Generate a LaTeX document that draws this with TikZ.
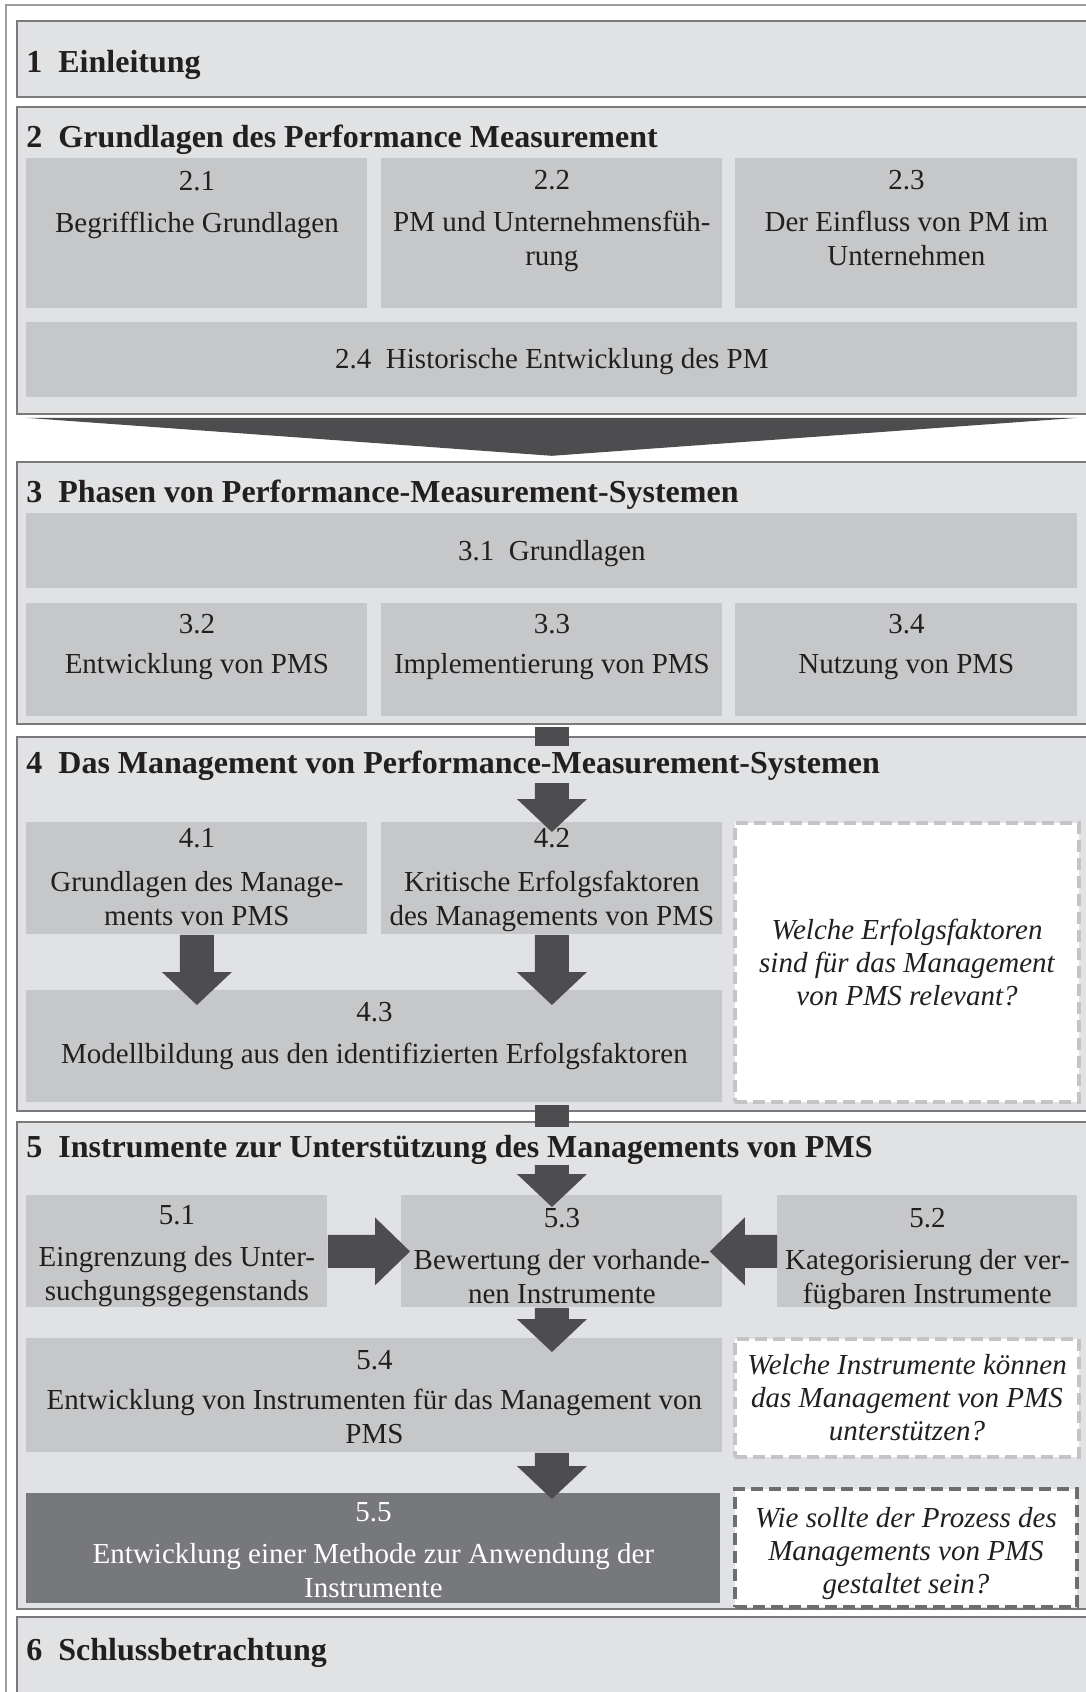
\documentclass[tikz,border=0pt]{standalone}
\usepackage{fontspec}
\setmainfont{Liberation Serif}
\usetikzlibrary{calc}

\definecolor{ink}{HTML}{231F20}
\definecolor{secfill}{HTML}{E1E2E3}
\definecolor{secline}{HTML}{7A7A7C}
\definecolor{boxfill}{HTML}{C6C7C9}
\definecolor{darkfill}{HTML}{77787B}
\definecolor{arrowgray}{HTML}{4D4D4F}
\definecolor{dashlight}{HTML}{C4C4C6}
\definecolor{dashdark}{HTML}{6D6E70}
\definecolor{framegray}{HTML}{9D9D9F}

% block arrows: start of stem, tip
\newcommand{\blockdown}[2]{%
  \fill[arrowfill] ($(#1)+(-17,0)$) -- ($(#1)+(17,0)$) -- ($(#2)+(17,-33)$)
    -- ($(#2)+(35,-33)$) -- (#2) -- ($(#2)+(-35,-33)$) -- ($(#2)+(-17,-33)$) -- cycle;}
\newcommand{\blockside}[3]{%
  \fill[arrowfill] ($(#1)+(0,-16.5)$) -- ($(#2)+({-35*(#3)},-16.5)$) -- ($(#2)+({-35*(#3)},-34)$)
    -- (#2) -- ($(#2)+({-35*(#3)},34)$) -- ($(#2)+({-35*(#3)},16.5)$) -- ($(#1)+(0,16.5)$) -- cycle;}

\begin{document}
\begin{tikzpicture}
            [x=0.5pt, y=-0.5pt,
            section/.style={draw=secline, fill=secfill, line width=0.8pt, anchor=north west, minimum width=542pt, inner sep=0pt},
            subbox/.style={fill=boxfill, anchor=north west, inner sep=0pt},
            darkbox/.style={fill=darkfill, anchor=north west, inner sep=0pt},
            question/.style={fill=white, draw=dashlight, line width=2pt, dash pattern=on 6pt off 3pt, anchor=north west, inner sep=0pt},
            qdark/.style={question, draw=dashdark},
            title/.style={anchor=base west, inner sep=0pt, text=ink, font=\fontsize{16}{19}\selectfont\bfseries},
            boxtext/.style={anchor=base, align=center, inner sep=0pt, text=ink, font=\fontsize{14.5}{17}\selectfont},
            qtext/.style={align=center, inner sep=0pt, text=ink, font=\fontsize{14.5}{16.5}\selectfont\itshape},
            arrowfill/.style={fill=arrowgray}]

            \useasboundingbox (0,0) rectangle (1086,1692);
            \clip (0,0) rectangle (1086,1692);
            \fill[white] (0,0) rectangle (1086,1692);
            \draw[framegray, line width=0.6pt] (6,5) rectangle (1100,1700);

            % chapters
            \node[section, minimum height=38pt] (sec1) at (16,20) {};
            \node[section, minimum height=153.5pt] (sec2) at (16,106) {};
            \node[section, minimum height=131pt] (sec3) at (16,461) {};
            \node[section, minimum height=187pt] (sec4) at (16,736) {};
            \node[section, minimum height=243.5pt] (sec5) at (16,1121) {};
            \node[section, minimum height=45pt] (sec6) at (16,1616) {};

            \node[title] (h1) at (26,72) {1\enspace Einleitung};
            \node[title] (h2) at (26,147) {2\enspace Grundlagen des Performance Measurement};
            \node[title] (h3) at (26,502) {3\enspace Phasen von Performance-Measurement-Systemen};
            \node[title] (h4) at (26,773) {4\enspace Das Management von Performance-Measurement-Systemen};
            \node[title] (h5) at (26,1157) {5\enspace Instrumente zur Unterstützung des Managements von PMS};
            \node[title] (h6) at (26,1660) {6\enspace Schlussbetrachtung};

            % sections
            \node[subbox, minimum width=170.5pt, minimum height=75pt] (n21) at (26,158) {};
            \node[subbox, minimum width=170.5pt, minimum height=75pt] (n22) at (381,158) {};
            \node[subbox, minimum width=171pt, minimum height=75pt] (n23) at (735,158) {};
            \node[subbox, minimum width=525.5pt, minimum height=37.5pt] (n24) at (26,322) {};

            \node[subbox, minimum width=525.5pt, minimum height=37.5pt] (n31) at (26,513) {};
            \node[subbox, minimum width=170.5pt, minimum height=56.5pt] (n32) at (26,603) {};
            \node[subbox, minimum width=170.5pt, minimum height=56.5pt] (n33) at (381,603) {};
            \node[subbox, minimum width=171pt, minimum height=56.5pt] (n34) at (735,603) {};

            \node[subbox, minimum width=170.5pt, minimum height=56pt] (n41) at (26,822) {};
            \node[subbox, minimum width=170.5pt, minimum height=56pt] (n42) at (381,822) {};
            \node[question, minimum width=172pt, minimum height=139.5pt] (q4) at (733,821) {};
            \node[subbox, minimum width=348pt, minimum height=56pt] (n43) at (26,990) {};

            \node[subbox, minimum width=150.5pt, minimum height=56pt] (n51) at (26,1195) {};
            \node[subbox, minimum width=160.5pt, minimum height=56pt] (n53) at (401,1195) {};
            \node[subbox, minimum width=150pt, minimum height=56pt] (n52) at (777,1195) {};
            \node[subbox, minimum width=348pt, minimum height=57pt] (n54) at (26,1338) {};
            \node[question, minimum width=172pt, minimum height=59pt] (q5a) at (733,1337) {};
            \node[darkbox, minimum width=347pt, minimum height=55pt] (n55) at (26,1493) {};
            \node[qdark, minimum width=171pt, minimum height=59pt] (q5b) at (733,1487) {};

            % arrows
            \fill[arrowfill] ($(n24.south west)+(0,20)$) -- ($(n24.south east)+(0,20)$) -- ($(n24.south)+(0,58)$) -- cycle;
            \fill[arrowfill] ($(n42.north |- sec3.south)+(-17,2)$) rectangle ($(n42.north |- sec4.north)+(17,10)$);
            \fill[arrowfill] ($(n42.north |- sec4.south)+(-17,-7)$) rectangle ($(n42.north |- sec5.north)+(17,6)$);

            \coordinate (a4s) at ($(n42.north)+(0,-39)$);
            \coordinate (a4t) at ($(n42.north)+(0,10)$);
            \coordinate (a41t) at ($(n43.north -| n41.south)+(0,15)$);
            \coordinate (a42t) at ($(n43.north -| n42.south)+(0,15)$);
            \blockdown{a4s}{a4t}
            \blockdown{n41.south}{a41t}
            \blockdown{n42.south}{a42t}

            \coordinate (a5s) at ($(n53.north -| n42.north)+(0,-30)$);
            \coordinate (a5t) at ($(n53.north -| n42.north)+(0,12)$);
            \coordinate (a53s) at (n53.south -| n42.north);
            \coordinate (a53t) at ($(n54.north -| n42.north)+(0,14)$);
            \coordinate (a54s) at (n54.south -| n42.north);
            \coordinate (a54t) at ($(n55.north -| n42.north)+(0,6)$);
            \coordinate (a51t) at ($(n53.west)+(9,0)$);
            \coordinate (a52t) at ($(n53.east)+(-13,0)$);
            \blockdown{a5s}{a5t}
            \blockdown{a53s}{a53t}
            \blockdown{a54s}{a54t}
            \blockside{n51.east}{a51t}{1}
            \blockside{n52.west}{a52t}{-1}

            % texts (base = last line)
            \node[boxtext] (t21) at ($(n21.north)+(0,74)$) {2.1\\[4pt]Begriffliche Grundlagen};
            \node[boxtext] (t22) at ($(n22.north)+(0,107)$) {2.2\\[4pt]PM und Unternehmensfüh-\\rung};
            \node[boxtext] (t23) at ($(n23.north)+(0,107)$) {2.3\\[4pt]Der Einfluss von PM im\\Unternehmen};
            \node[boxtext] (t24) at ($(n24.center)+(0,8.5)$) {2.4\enspace Historische Entwicklung des PM};

            \node[boxtext] (t31) at ($(n31.center)+(0,9.5)$) {3.1\enspace Grundlagen};
            \node[boxtext] (t32) at ($(n32.north)+(0,70)$) {3.2\\[3pt]Entwicklung von PMS};
            \node[boxtext] (t33) at ($(n33.north)+(0,70)$) {3.3\\[3pt]Implementierung von PMS};
            \node[boxtext] (t34) at ($(n34.north)+(0,70)$) {3.4\\[3pt]Nutzung von PMS};

            \node[boxtext] (t41) at ($(n41.north)+(0,103)$) {4.1\\[5pt]Grundlagen des Manage-\\ments von PMS};
            \node[boxtext] (t42) at ($(n42.north)+(0,103)$) {4.2\\[5pt]Kritische Erfolgsfaktoren\\des Managements von PMS};
            \node[boxtext] (t43) at ($(n43.north)+(0,73)$) {4.3\\[4pt]Modellbildung aus den identifizierten Erfolgsfaktoren};
            \node[qtext] (tq4) at (q4.center) {Welche Erfolgsfaktoren\\sind für das Management\\von PMS relevant?};

            \node[boxtext] (t51) at ($(n51.north)+(0,105)$) {5.1\\[4pt]Eingrenzung des Unter-\\suchgungsgegenstands};
            \node[boxtext] (t53) at ($(n53.north)+(0,108)$) {5.3\\[4pt]Bewertung der vorhande-\\nen Instrumente};
            \node[boxtext] (t52) at ($(n52.north)+(0,108)$) {5.2\\[4pt]Kategorisierung der ver-\\fügbaren Instrumente};
            \node[boxtext] (t54) at ($(n54.north)+(0,105)$) {5.4\\[3pt]Entwicklung von Instrumenten für das Management von\\PMS};
            \node[qtext] (tq5a) at (q5a.center) {Welche Instrumente können\\das Management von PMS\\unterstützen?};
            \node[boxtext, text=white] (t55) at ($(n55.north)+(0,104)$) {5.5\\[4pt]Entwicklung einer Methode zur Anwendung der\\Instrumente};
            \node[qtext] (tq5b) at ($(q5b.center)+(0,6)$) {Wie sollte der Prozess des\\Managements von PMS\\gestaltet sein?};

        \end{tikzpicture}
\end{document}
